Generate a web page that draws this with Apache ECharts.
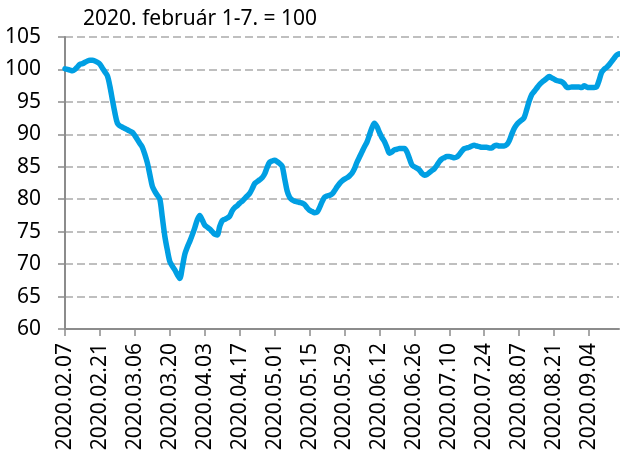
<!DOCTYPE html>
<html>
<head>
<meta charset="utf-8">
<script src="https://cdn.jsdelivr.net/npm/echarts@6/dist/echarts.min.js"></script>
<style>
  html, body { margin: 0; padding: 0; background: #fff; }
  #chart { width: 620px; height: 457px; }
</style>
</head>
<body>
<div id="chart"></div>
<script>
// 2020.02.07-tól naponta, 2020. február 1-7. = 100
const startDate = [2020, 1, 7];
const titleText = '2020. február 1-7. = 100';
const yTicks = [60, 65, 70, 75, 80, 85, 90, 95, 100, 105];

const indexValues = [
    100.1, 100.0, 99.9, 99.8, 100.0, 100.4, 100.8, 100.9, 101.1, 101.3,
    101.4, 101.4, 101.3, 101.1, 100.8, 100.2, 99.6, 99.0, 97.4, 95.3,
    93.3, 91.7, 91.3, 91.1, 90.9, 90.7, 90.5, 90.3, 89.8, 89.2,
    88.6, 88.0, 86.9, 85.6, 83.8, 82.0, 81.2, 80.6, 80.0, 77.2,
    74.3, 72.2, 70.4, 69.7, 69.1, 68.4, 67.8, 69.5, 71.5, 72.6,
    73.5, 74.5, 75.6, 76.8, 77.5, 76.8, 76.0, 75.7, 75.4, 75.0,
    74.6, 74.5, 75.8, 76.7, 76.9, 77.1, 77.4, 78.2, 78.7, 79.0,
    79.4, 79.7, 80.1, 80.5, 80.9, 81.6, 82.4, 82.7, 83.0, 83.3,
    83.9, 84.9, 85.7, 85.9, 86.0, 85.8, 85.5, 85.1, 83.2, 81.3,
    80.3, 79.9, 79.7, 79.6, 79.5, 79.4, 79.2, 78.7, 78.3, 78.1,
    77.9, 78.0, 78.7, 79.6, 80.3, 80.5, 80.6, 80.8, 81.3, 81.9,
    82.4, 82.8, 83.1, 83.3, 83.6, 84.0, 84.7, 85.7, 86.5, 87.3,
    88.1, 88.8, 89.9, 91.0, 91.7, 91.2, 90.3, 89.5, 88.9, 88.0,
    87.1, 87.3, 87.6, 87.7, 87.8, 87.8, 87.8, 87.3, 86.3, 85.3,
    85.0, 84.8, 84.5, 84.0, 83.7, 83.8, 84.1, 84.4, 84.7, 85.2,
    85.8, 86.2, 86.4, 86.6, 86.6, 86.5, 86.4, 86.5, 86.9, 87.4,
    87.8, 87.9, 88.0, 88.2, 88.3, 88.2, 88.1, 88.0, 88.0, 88.0,
    87.9, 87.9, 88.2, 88.3, 88.2, 88.2, 88.2, 88.4, 89.0, 90.0,
    90.9, 91.5, 91.9, 92.2, 92.6, 93.8, 95.1, 96.1, 96.6, 97.1,
    97.6, 98.0, 98.3, 98.6, 98.9, 98.7, 98.5, 98.3, 98.2, 98.1,
    97.8, 97.3, 97.2, 97.3, 97.3, 97.3, 97.3, 97.2, 97.5, 97.3,
    97.2, 97.2, 97.2, 97.3, 98.3, 99.5, 100.0, 100.3, 100.7, 101.2,
    101.7, 102.2, 102.4
];

// dátum címkék (napi kategóriák)
const pad = n => (n < 10 ? '0' : '') + n;
const dateLabels = indexValues.map((v, i) => {
    const d = new Date(Date.UTC(startDate[0], startDate[1], startDate[2] + i));
    return d.getUTCFullYear() + '.' + pad(d.getUTCMonth() + 1) + '.' + pad(d.getUTCDate());
});

const chart = echarts.init(document.getElementById('chart'));
const fontFamily = '"Noto Sans", "Open Sans", sans-serif';

const option = {
    animation: false,
    title: {
        text: titleText,
        left: 78,
        top: 4,
        textStyle: {
            color: '#000',
            fontSize: 21,
            fontWeight: 'normal',
            fontFamily: fontFamily
        }
    },
    grid: {
        left: 65,
        right: 1,
        top: 37,
        bottom: 128,
        containLabel: false
    },
    xAxis: {
        type: 'category',
        data: dateLabels,
        boundaryGap: false,
        axisLine: { lineStyle: { color: '#8c8c8c', width: 2 } },
        axisTick: {
            show: true,
            interval: 13,
            length: 7,
            lineStyle: { color: '#8c8c8c', width: 1.5 }
        },
        axisLabel: {
            interval: 13,
            rotate: 90,
            margin: 14,
            color: '#000',
            fontSize: 21,
            fontFamily: fontFamily
        },
        splitLine: { show: false }
    },
    yAxis: {
        type: 'value',
        min: yTicks[0],
        max: yTicks[yTicks.length - 1],
        interval: 5,
        axisLine: { show: true, lineStyle: { color: '#8c8c8c', width: 2 } },
        axisTick: { show: true, length: 7, lineStyle: { color: '#8c8c8c', width: 1.5 } },
        axisLabel: {
            margin: 24,
            color: '#000',
            fontSize: 21,
            fontFamily: fontFamily
        },
        splitLine: {
            lineStyle: { color: '#bfbfbf', width: 2, type: [8, 4] }
        }
    },
    series: [{
        type: 'line',
        data: indexValues,
        showSymbol: false,
        smooth: 0.3,
        lineStyle: { color: '#009fe3', width: 5.5, cap: 'round', join: 'round' },
        itemStyle: { color: '#009fe3' }
    }]
};

chart.setOption(option);
</script>
</body>
</html>
